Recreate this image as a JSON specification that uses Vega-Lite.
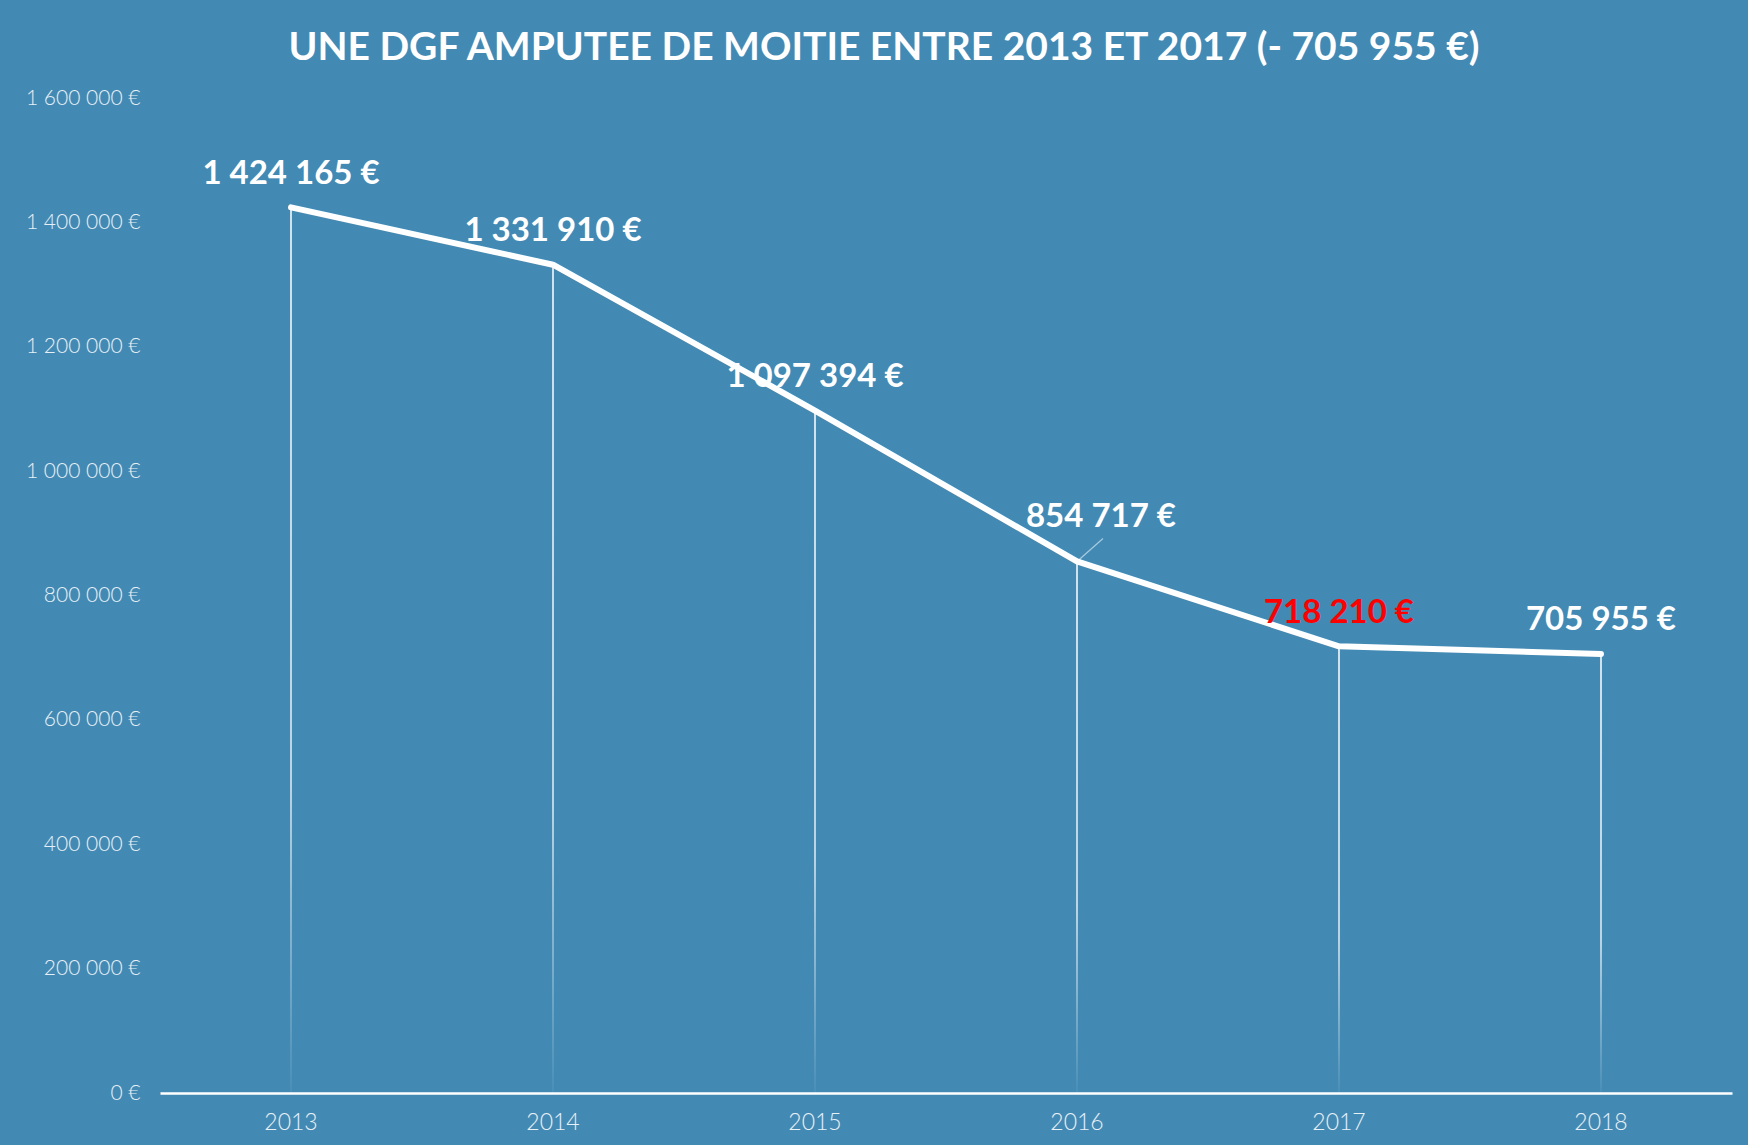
{
  "$schema": "https://vega.github.io/schema/vega-lite/v6.json",
  "autosize": "none",
  "width": 1572,
  "height": 995,
  "padding": {"left": 160, "top": 98, "right": 16, "bottom": 52},
  "background": "#428AB4",
  "config": {
    "view": {"stroke": null},
    "locale": {"number": {"decimal": ",", "thousands": " ", "grouping": [3], "currency": ["", " €"]}},
    "font": "Lato"
  },
  "title": {
    "text": "UNE DGF AMPUTEE DE MOITIE ENTRE 2013 ET 2017 (- 705 955 €)",
    "font": "Lato",
    "fontSize": 39,
    "fontWeight": "bold",
    "color": "#FFFFFF",
    "anchor": "middle",
    "dx": -62,
    "offset": 19
  },
  "data": {
    "values": [
      {"year": "2013", "value": 1424165},
      {"year": "2014", "value": 1331910},
      {"year": "2015", "value": 1097394},
      {"year": "2016", "value": 854717},
      {"year": "2017", "value": 718210},
      {"year": "2018", "value": 705955}
    ]
  },
  "encoding": {
    "x": {
      "field": "year",
      "type": "ordinal",
      "scale": {"paddingInner": 0, "paddingOuter": 0},
      "axis": {
        "title": null,
        "labelAngle": 0,
        "labelFont": "Lato",
        "labelFontWeight": 300,
        "labelFontSize": 23,
        "labelColor": "#E8F0F6",
        "labelPadding": 18,
        "ticks": false,
        "domainColor": "#FFFFFF",
        "domainWidth": 2.5,
        "grid": false
      }
    },
    "y": {
      "field": "value",
      "type": "quantitative",
      "scale": {"domain": [0, 1600000], "nice": false},
      "axis": {
        "title": null,
        "format": "$,.0f",
        "values": [0, 200000, 400000, 600000, 800000, 1000000, 1200000, 1400000, 1600000],
        "labelFont": "Lato",
        "labelFontWeight": 300,
        "labelFontSize": 21,
        "labelColor": "#E8F0F6",
        "labelPadding": 20,
        "ticks": false,
        "domain": false,
        "grid": false
      }
    }
  },
  "layer": [
    {
      "mark": {
        "type": "bar",
        "size": 1.6,
        "color": {
          "gradient": "linear",
          "x1": 0, "y1": 0, "x2": 0, "y2": 1,
          "stops": [
            {"offset": 0, "color": "rgba(255,255,255,0.95)"},
            {"offset": 0.65, "color": "rgba(255,255,255,0.8)"},
            {"offset": 1, "color": "rgba(255,255,255,0.05)"}
          ]
        }
      }
    },
    {
      "transform": [{"filter": "datum.year == '2016'"}],
      "mark": {"type": "rule", "color": "rgba(255,255,255,0.55)", "strokeWidth": 1.2, "x2Offset": 26, "y2Offset": -23},
      "encoding": {
        "x2": {"field": "year"},
        "y2": {"field": "value"}
      }
    },
    {
      "mark": {"type": "line", "color": "#FFFFFF", "strokeWidth": 6, "strokeCap": "round", "strokeJoin": "round"}
    },
    {
      "transform": [{"filter": "datum.year != '2016'"}],
      "mark": {"type": "text", "font": "Lato", "fontWeight": "bold", "fontSize": 33, "dy": -33.5, "baseline": "middle"},
      "encoding": {
        "text": {"field": "value", "type": "quantitative", "format": "$,.0f"},
        "color": {"condition": {"test": "datum.year == '2017'", "value": "#FF0000"}, "value": "#FFFFFF"}
      }
    },
    {
      "transform": [{"filter": "datum.year == '2016'"}],
      "mark": {"type": "text", "font": "Lato", "fontWeight": "bold", "fontSize": 33, "dx": 24, "dy": -44.5, "baseline": "middle", "color": "#FFFFFF"},
      "encoding": {
        "text": {"field": "value", "type": "quantitative", "format": "$,.0f"}
      }
    }
  ]
}
